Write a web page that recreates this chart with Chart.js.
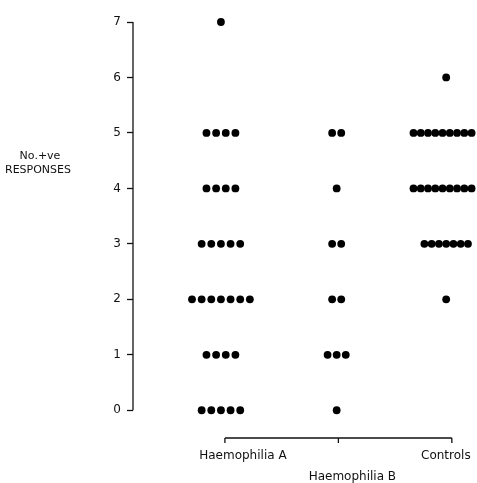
<!DOCTYPE html>
<html>
<head>
<meta charset="utf-8">
<script src="https://cdn.jsdelivr.net/npm/chart.js@4/dist/chart.umd.min.js"></script>
<style>
  html, body { margin: 0; padding: 0; background: #fff; }
  #wrap { width: 477px; height: 483px; }
</style>
</head>
<body>
<div id="wrap"><canvas id="dotChart" width="477" height="483"></canvas></div>
<script>
// number of subjects at each response level (index = no. of +ve responses)
const responseLevels = [0, 1, 2, 3, 4, 5, 6, 7];
const haemophiliaA = [5, 4, 7, 5, 4, 4, 0, 1];
const haemophiliaB = [1, 3, 2, 2, 1, 2, 0, 0];
const controls = [0, 0, 1, 7, 10, 10, 1, 0];
const groupLabels = ['Haemophilia A', 'Haemophilia B', 'Controls'];

const groups = [
  { counts: haemophiliaA, centre: 0.965, step: 0.085 },
  { counts: haemophiliaB, centre: 1.985, step: 0.08 },
  { counts: controls, centre: 2.95, step: 0.064 }
];

function buildPoints(group) {
  const points = [];
  group.counts.forEach((n, i) => {
    for (let k = 0; k < n; k++) {
      points.push({ x: group.centre + (k - (n - 1) / 2) * group.step, y: responseLevels[i] });
    }
  });
  return points;
}

const ink = '#111';
const font = 'DejaVu Sans';

const axisPlugin = {
  id: 'axisPlugin',
  afterDraw(chart) {
    const { ctx, chartArea, scales } = chart;
    const x = scales.x;
    const y = scales.y;
    ctx.save();
    ctx.strokeStyle = ink;
    ctx.lineWidth = 1.3;

    // y axis line, 0 to 7 only
    ctx.beginPath();
    ctx.moveTo(chartArea.left, y.getPixelForValue(7));
    ctx.lineTo(chartArea.left, y.getPixelForValue(0));
    ctx.stroke();

    // x axis, spans the three groups
    const base = chartArea.bottom;
    ctx.beginPath();
    ctx.moveTo(x.getPixelForValue(1), base);
    ctx.lineTo(x.getPixelForValue(3), base);
    [1, 2, 3].forEach(v => {
      const px = x.getPixelForValue(v);
      ctx.moveTo(px, base);
      ctx.lineTo(px, base + 5);
    });
    ctx.stroke();

    ctx.fillStyle = ink;
    ctx.font = `12px "${font}"`;
    ctx.textAlign = 'center';
    ctx.textBaseline = 'middle';
    ctx.fillText(groupLabels[0], x.getPixelForValue(1) + 18, base + 18);
    ctx.fillText(groupLabels[1], x.getPixelForValue(2) + 14, base + 39);
    ctx.fillText(groupLabels[2], x.getPixelForValue(3) - 6, base + 18);

    // y title, horizontal
    ctx.font = `11px "${font}"`;
    ctx.fillText('No.+ve', 40, 156);
    ctx.fillText('RESPONSES', 38, 170);
    ctx.restore();
  }
};

new Chart(document.getElementById('dotChart'), {
  type: 'scatter',
  data: {
    datasets: groups.map((g, i) => ({
      label: groupLabels[i],
      data: buildPoints(g),
      backgroundColor: '#000',
      borderWidth: 0,
      pointRadius: 3.9,
      pointHoverRadius: 3.9,
      clip: false
    }))
  },
  options: {
    responsive: false,
    animation: false,
    layout: { padding: { top: 22, right: 7, bottom: 45, left: 0 } },
    scales: {
      x: {
        display: false,
        type: 'linear',
        min: 0.19,
        max: 3.16
      },
      y: {
        type: 'linear',
        min: -0.5,
        max: 7,
        afterFit: scale => { scale.width = 133; },
        afterBuildTicks: scale => {
          scale.ticks = responseLevels.map(v => ({ value: v }));
        },
        border: { display: false },
        grid: {
          drawOnChartArea: false,
          drawTicks: true,
          tickLength: 6,
          tickWidth: 1.3,
          color: ink
        },
        ticks: {
          color: ink,
          padding: 6,
          font: { family: font, size: 12 }
        }
      }
    },
    plugins: {
      legend: { display: false },
      tooltip: { enabled: false }
    }
  },
  plugins: [axisPlugin]
});
</script>
</body>
</html>
